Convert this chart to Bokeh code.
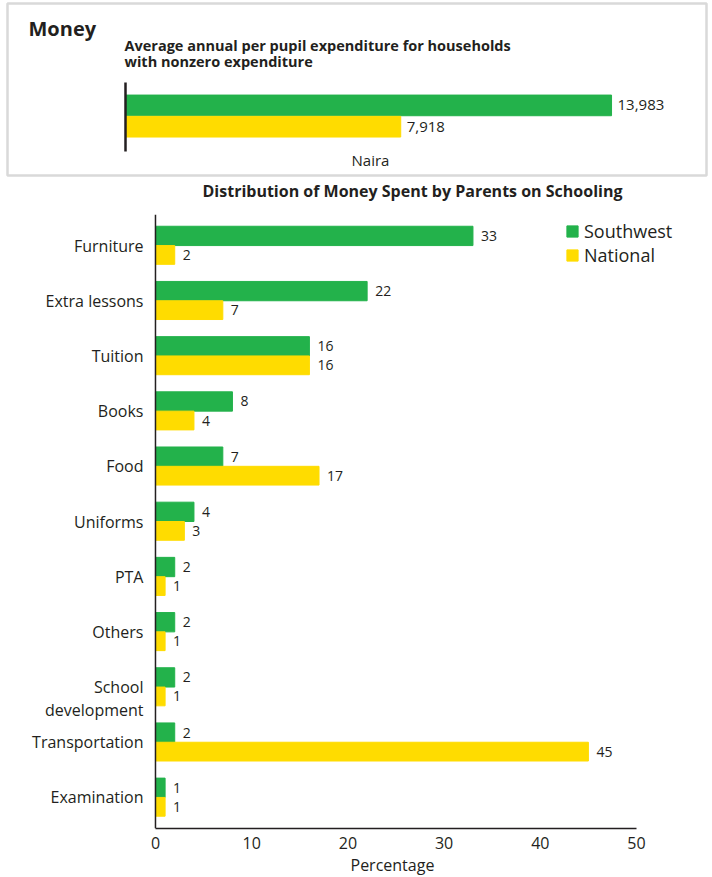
from bokeh.plotting import figure
from bokeh.models import (FactorRange, Range1d, ColumnDataSource, LabelSet, Label,
                          Legend, LegendItem, Title, FixedTicker, LinearAxis, Span)
from bokeh.transform import dodge
from bokeh.core.properties import value
from bokeh.embed import file_html
from bokeh.resources import INLINE

FONT = "Open Sans"
GREEN = "#23b24b"
YELLOW = "#ffdc00"
INK = "#231f20"

# ---- data: top panel ----
money_series = ["Southwest", "National"]
money_values = [13983, 7918]
money_labels = ["13,983", "7,918"]

# ---- data: bottom panel ----
categories = ["Furniture", "Extra lessons", "Tuition", "Books", "Food", "Uniforms",
              "PTA", "Others", "School development", "Transportation", "Examination"]
southwest = [33, 22, 16, 8, 7, 4, 2, 2, 2, 2, 1]
national = [2, 7, 16, 4, 17, 3, 1, 1, 1, 45, 1]
x_ticks = [0, 10, 20, 30, 40, 50]

W = 712

# ================= top figure =================
top = figure(width=W, height=205, output_backend="svg", toolbar_location=None,
             x_range=Range1d(-3395, 16715), y_range=Range1d(-2.291, 5.784),
             x_axis_location=None, y_axis_location=None,
             min_border_left=7, min_border_right=6, min_border_top=3, min_border_bottom=30)
top.outline_line_color = "#d9d9d9"
top.outline_line_width = 2.5
top.grid.visible = False

# bars stacked from top to bottom in list order
ypos = list(range(len(money_series)))[::-1]
tsrc = ColumnDataSource(dict(series=money_series, y=ypos, val=money_values,
                             lab=money_labels, color=[GREEN, YELLOW]))
top.hbar(y="y", right="val", left=0, height=0.97, color="color", source=tsrc)
top.add_layout(LabelSet(x="val", y="y", text="lab", source=tsrc, x_offset=6,
                        text_baseline="middle", text_font=value(FONT),
                        text_font_size="15px", text_color=INK))

vaxis = LinearAxis(fixed_location=0, bounds=(-1.164, 2.075), ticker=FixedTicker(ticks=[]),
                   axis_line_color=INK, axis_line_width=2.5,
                   major_tick_line_color=None, minor_tick_line_color=None,
                   major_label_standoff=0)
top.add_layout(vaxis, "left")

top.add_layout(Label(x=21, y=147, x_units="screen", y_units="screen", text="Money",
                     text_font=FONT, text_font_style="bold", text_font_size="20px",
                     text_color=INK, text_baseline="alphabetic"))
top.add_layout(Label(x=117, y=130, x_units="screen", y_units="screen",
                     text="Average annual per pupil expenditure for households",
                     text_font=FONT, text_font_style="bold", text_font_size="14.5px",
                     text_color=INK, text_baseline="alphabetic"))
top.add_layout(Label(x=117, y=114, x_units="screen", y_units="screen",
                     text="with nonzero expenditure",
                     text_font=FONT, text_font_style="bold", text_font_size="14.5px",
                     text_color=INK, text_baseline="alphabetic"))
top.add_layout(Label(x=363, y=16, x_units="screen", y_units="screen", text="Naira",
                     text_align="center", text_font=FONT, text_font_size="15px",
                     text_color=INK, text_baseline="alphabetic"))

# title of the lower chart, set just beneath the boxed panel
ttl = Title(text="Distribution of Money Spent by Parents on Schooling", align="left",
            offset=195, text_font=FONT, text_font_style="bold", text_font_size="16px",
            text_color=INK, standoff=5)
top.add_layout(ttl, "below")

# ================= bottom figure =================
bot = figure(width=W, height=672, output_backend="svg", toolbar_location=None,
             x_range=Range1d(-16.11, 57.9),
             y_range=FactorRange(factors=list(reversed(categories)), range_padding=0.063,
                                 range_padding_units="absolute"),
             y_axis_location=None,
             min_border_left=0, min_border_right=0, min_border_top=9, min_border_bottom=49)
bot.outline_line_color = None
bot.grid.visible = False

cat_text = [c.replace("School ", "School\n") for c in categories]
# two-line labels hang a little below the bar group, as in the original
cat_yoff = [11 * t.count("\n") for t in cat_text]
bsrc = ColumnDataSource(dict(cat=categories, cat_text=cat_text, yoff=cat_yoff,
                             sw=southwest, nat=national))
g = bot.hbar(y=dodge("cat", 0.175, range=bot.y_range), right="sw", left=0, height=0.35,
             color=GREEN, source=bsrc)
yb = bot.hbar(y=dodge("cat", -0.17, range=bot.y_range), right="nat", left=0, height=0.34,
              color=YELLOW, source=bsrc)
bot.text(x="sw", y=dodge("cat", 0.175, range=bot.y_range), text="sw", source=bsrc,
         x_offset=8, text_baseline="middle", text_font=value(FONT), text_font_size="14px",
         text_color=INK)
bot.text(x="nat", y=dodge("cat", -0.17, range=bot.y_range), text="nat", source=bsrc,
         x_offset=8, text_baseline="middle", text_font=value(FONT), text_font_size="14px",
         text_color=INK)
# category labels, right-aligned against the vertical axis at x = 0
bot.text(x=0, y="cat", text="cat_text", source=bsrc, x_offset=-12, y_offset="yoff",
         text_align="right", text_baseline="middle", text_font=value(FONT),
         text_font_size="16px", text_color=INK, text_line_height=1.05)
bot.add_layout(Span(location=0, dimension="height", line_color=INK, line_width=1.5))

bot.xaxis.ticker = FixedTicker(ticks=x_ticks)
bot.xaxis.bounds = (0, 50)
bot.xaxis.major_tick_line_color = None
bot.xaxis.minor_tick_line_color = None
bot.xaxis.major_tick_out = 0
bot.xaxis.axis_line_color = INK
bot.xaxis.axis_line_width = 1.5
bot.xaxis.major_label_standoff = 8
bot.xaxis.major_label_text_font = FONT
bot.xaxis.major_label_text_font_size = "16px"
bot.xaxis.major_label_text_color = INK

xlab = Title(text="Percentage", align="left", offset=350, text_font=FONT,
             text_font_style="normal", text_font_size="16px", text_color=INK, standoff=0)
bot.add_layout(xlab, "below")

legend = Legend(items=[LegendItem(label="Southwest", renderers=[g]),
                       LegendItem(label="National", renderers=[yb])],
                location=(565, 561), padding=0, margin=0, spacing=0,
                glyph_width=14, glyph_height=14, label_height=23, label_standoff=5,
                label_text_font=FONT, label_text_font_size="18px", label_text_color=INK,
                border_line_color=None, background_fill_alpha=0)
bot.add_layout(legend)

open("out.html", "w").write(file_html([top, bot], INLINE))
